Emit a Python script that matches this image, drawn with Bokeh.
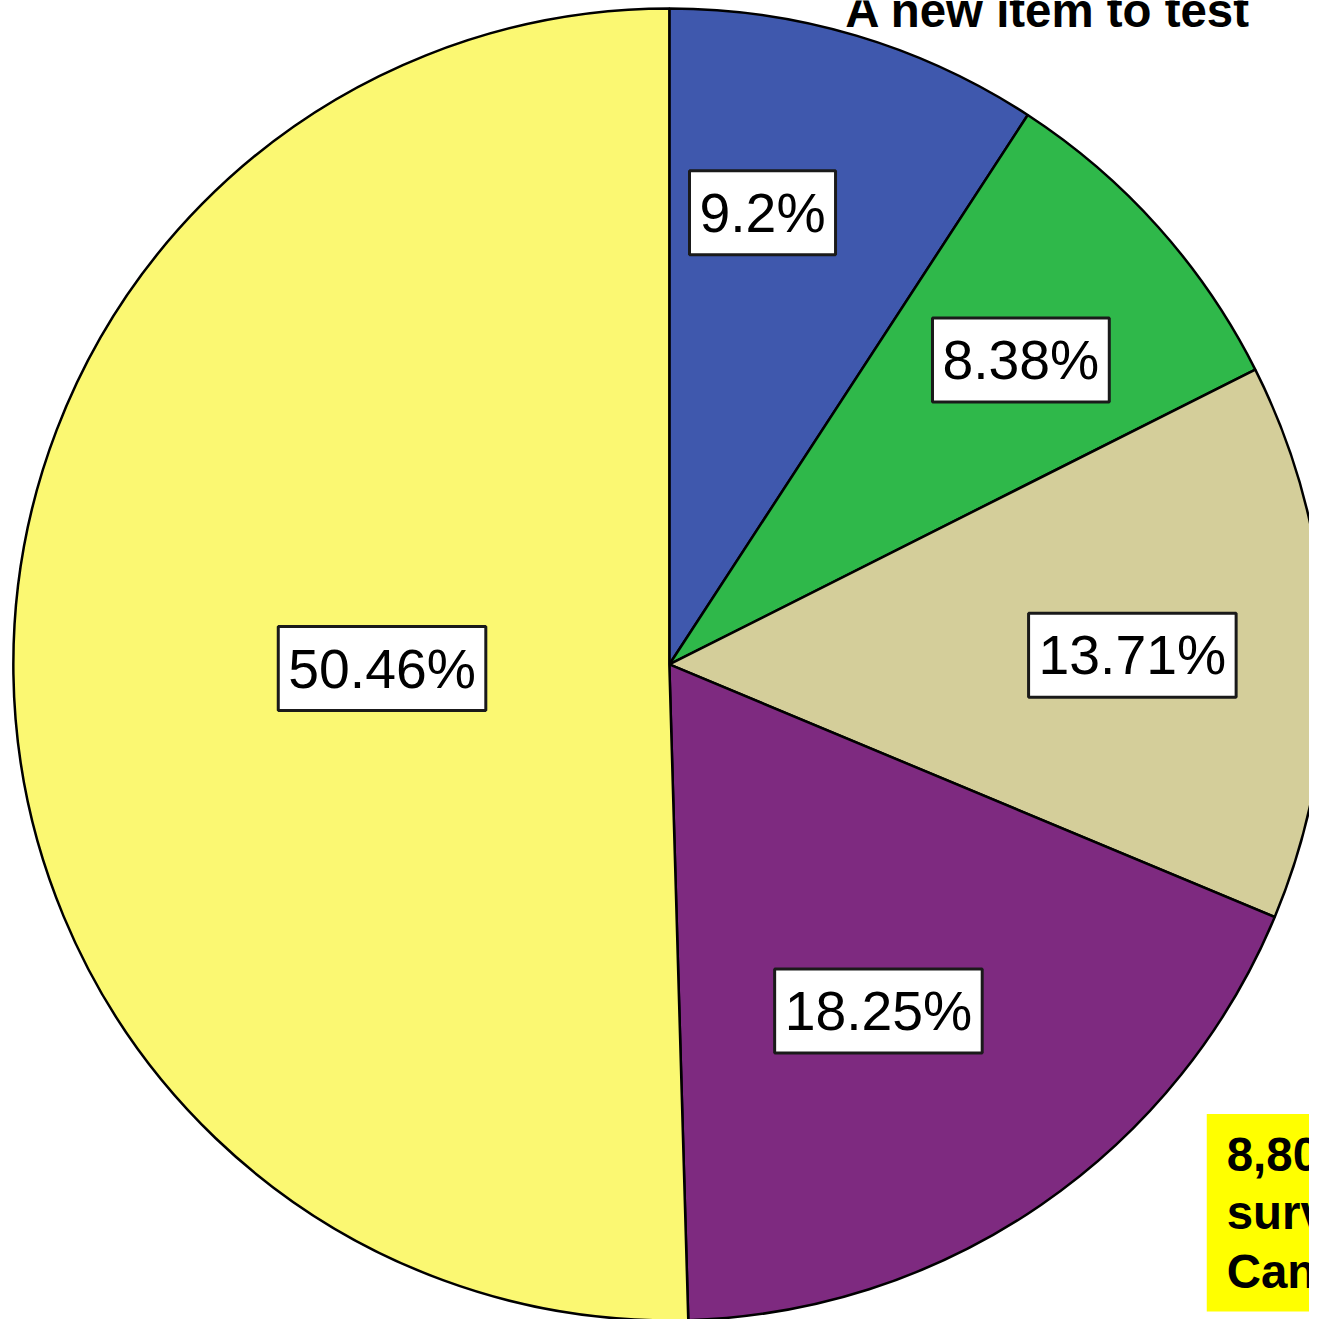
import numpy as np
from bokeh.plotting import figure
from bokeh.models import Range1d, ColumnDataSource
from bokeh.core.properties import value
from bokeh.embed import file_html
from bokeh.resources import INLINE

# ---- data ----
categories = ["A", "B", "C", "D", "E"]
percents = [9.2, 8.38, 13.71, 18.25, 50.46]
labels = ["9.2%", "8.38%", "13.71%", "18.25%", "50.46%"]
colors = ["#3F58AD", "#2FB84A", "#D4CE9A", "#7E2A80", "#FBF872"]
title_text = "A new item to test"
note_text = "8,800 people\nsurveyed in\nCanada"

# ---- styling / layout (data units = reference pixels, scaled to fit) ----
W, H = 1325, 1335
FW, FH = 1309, 1319
S = FW / W
cx, cy, R = 677, -672, 664
label_r = [0.703, 0.709, 0.706, 0.617, 0.438]      # fraction of radius
label_nudge = [-4.9, 0.9, 0.9, 3.4, 0.0]            # degrees

vals = np.array(percents, dtype=float)
frac = vals / vals.sum()
cum = np.concatenate([[0.0], np.cumsum(frac)])
phi0 = cum[:-1] * 360.0     # clockwise from 12 o'clock
phi1 = cum[1:] * 360.0
start = np.deg2rad(90.0 - phi1)
end = np.deg2rad(90.0 - phi0)
mid = (phi0 + phi1) / 2.0 + np.array(label_nudge)
lx = cx + np.array(label_r) * R * np.sin(np.deg2rad(mid))
ly = cy + np.array(label_r) * R * np.cos(np.deg2rad(mid))

src = ColumnDataSource(dict(cat=categories, start=start, end=end, color=colors,
                            lx=lx, ly=ly, label=labels))

p = figure(width=FW, height=FH, x_range=Range1d(0, W), y_range=Range1d(-H, 0),
           output_backend="svg", toolbar_location=None, min_border=0,
           x_axis_location=None, y_axis_location=None)
p.grid.visible = False
p.outline_line_color = None
p.background_fill_color = "white"
p.border_fill_color = "white"

p.wedge(x=cx, y=cy, radius=R, start_angle="start", end_angle="end", direction="anticlock",
        fill_color="color", line_color="black", line_width=2.5, source=src)

p.text(x="lx", y="ly", text="label", source=src, text_align="center", text_baseline="middle",
       text_font=value("Liberation Sans"), text_font_size=f"{56*S:.1f}px", text_color="black",
       background_fill_color="white", border_line_color="#1a1a1a", border_line_width=3,
       padding=(10, 11))

p.text(x=[855], y=[-10], text=[title_text], text_align="left", text_baseline="alphabetic",
       text_font=value("Liberation Sans"), text_font_size=f"{48*S:.1f}px", text_font_style="bold",
       text_color="black")

p.text(x=[1221], y=[-1127], text=[note_text], text_align="left", text_baseline="top",
       text_font=value("Liberation Sans"), text_font_size=f"{48*S:.1f}px", text_font_style="bold",
       text_color="black", text_line_height=1.1,
       background_fill_color="#FFFF00", padding=(20, 14))

open("out.html", "w").write(file_html(p, INLINE))
